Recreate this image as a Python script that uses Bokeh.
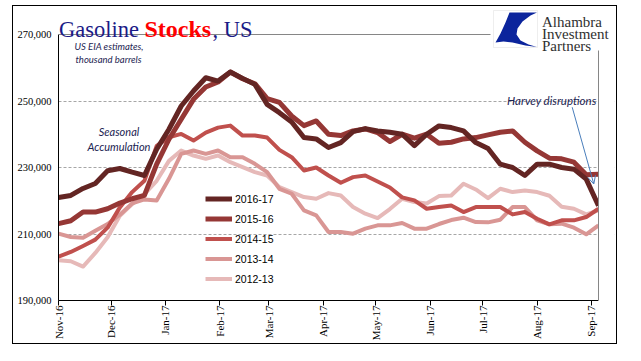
import math
import pandas as pd
from bokeh.plotting import figure
from bokeh.models import (Range1d, FixedTicker, MonthsTicker, DatetimeTickFormatter,
                          NumeralTickFormatter, Legend, LegendItem, Label, PolyAnnotation,
                          Arrow, OpenHead)
from bokeh.embed import file_html
from bokeh.resources import INLINE

# ---------------- data (thousand barrels, weekly) ----------------
weeks = pd.date_range("2016-11-01", periods=45, freq="7D")

s2016_17 = [221.0, 221.6, 223.7, 225.2, 229.0, 229.7, 228.6, 227.6, 235.5, 241.5,
            248.5, 253.0, 257.0, 256.0, 258.7, 256.8, 255.0, 249.0, 246.5, 243.7,
            239.0, 238.6, 236.0, 237.5, 240.8, 241.7, 241.0, 240.6, 240.0, 236.6,
            240.0, 242.5, 242.0, 241.0, 237.5, 235.7, 231.0, 230.0, 227.6, 231.0,
            231.0, 230.0, 229.5, 226.5, 218.5]
s2015_16 = [213.1, 214.0, 216.6, 216.6, 217.6, 219.3, 220.6, 221.6, 231.0, 238.5,
            244.5, 250.5, 254.2, 255.7, 258.7, 256.7, 255.2, 250.7, 249.6, 245.5,
            242.6, 244.0, 240.0, 239.6, 241.0, 241.6, 240.5, 237.8, 240.0, 238.8,
            240.0, 237.3, 237.6, 238.6, 239.0, 239.8, 240.6, 241.0, 237.6, 235.0,
            232.8, 232.6, 231.6, 227.8, 228.0]
s2014_15 = [203.2, 204.6, 206.4, 208.3, 211.9, 218.0, 222.6, 226.0, 236.5, 239.1,
            240.1, 238.1, 240.5, 242.0, 242.6, 239.6, 239.6, 239.0, 235.3, 233.1,
            229.1, 230.0, 227.6, 225.4, 227.1, 227.6, 225.8, 224.0, 221.0, 220.1,
            217.6, 218.1, 218.6, 216.6, 218.1, 218.1, 218.1, 215.9, 216.6, 214.6,
            212.9, 214.1, 214.1, 215.1, 217.6]
s2013_14 = [210.1, 209.1, 208.9, 211.0, 213.0, 215.8, 219.2, 220.4, 220.1, 226.6,
            234.1, 235.1, 234.1, 235.1, 233.1, 233.1, 231.1, 228.6, 223.6, 222.1,
            217.1, 215.6, 210.6, 210.6, 210.1, 211.6, 212.6, 212.6, 213.3, 211.6,
            211.6, 213.0, 214.2, 214.9, 213.6, 213.5, 214.3, 218.1, 218.1, 214.1,
            212.9, 213.1, 211.9, 209.9, 212.6]
s2012_13 = [202.1, 201.8, 200.2, 204.3, 209.0, 215.5, 219.0, 222.0, 226.0, 232.0,
            235.1, 233.6, 232.6, 233.6, 231.6, 230.1, 228.6, 227.6, 224.1, 222.6,
            221.1, 220.6, 222.3, 221.6, 218.1, 216.1, 214.8, 217.5, 220.6, 219.6,
            219.2, 221.4, 221.6, 225.1, 223.4, 220.8, 223.6, 222.6, 223.1, 222.6,
            221.5, 218.2, 217.6, 215.9, 217.1]

series_names = ["2016-17", "2015-16", "2014-15", "2013-14", "2012-13"]
series_values = [s2016_17, s2015_16, s2014_15, s2013_14, s2012_13]
series_colors = ["#632523", "#953735", "#C0504D", "#D99694", "#E6B9B8"]
series_widths = [5, 5, 4, 4, 4]

y_min, y_max = 190000, 270000
y_ticks = [190000, 210000, 230000, 250000, 270000]
grid_ticks = [210000, 230000, 250000]

# ---------------- layout (page pixels) ----------------
BOX_L, BOX_T, BOX_R, BOX_B = 13, 6, 616, 343      # outer chart border
PLOT_L, PLOT_T, PLOT_R, PLOT_B = 58, 34, 598, 300  # plot area of the data
FRAME_T, FRAME_R = 8, 614                          # bokeh frame (extended for title/logo)

px_per_val = (PLOT_B - PLOT_T) / (y_max - y_min)
y_top = y_max + (PLOT_T - FRAME_T) / px_per_val
span_days = (weeks[-1] - weeks[0]).days
px_per_day = (PLOT_R - PLOT_L) / span_days
x_end = weeks[-1] + pd.Timedelta(days=(FRAME_R - PLOT_R) / px_per_day)


def sx(px):
    return px - PLOT_L


def sy(py):
    return PLOT_B - py


p = figure(width=BOX_R - BOX_L, height=BOX_B - BOX_T, x_axis_type="datetime",
           output_backend="svg", toolbar_location=None, title=None,
           x_range=Range1d(weeks[0], x_end), y_range=Range1d(y_min, y_top),
           min_border_left=PLOT_L - BOX_L, min_border_right=BOX_R - FRAME_R,
           min_border_top=FRAME_T - BOX_T, min_border_bottom=BOX_B - PLOT_B)
p.margin = (BOX_T, 0, 0, BOX_L)
p.styles = {"outline": "1.5px solid black", "outline-offset": "0px"}
p.outline_line_color = None
p.background_fill_color = "white"
p.border_fill_color = "white"

renderers = {}
for name, vals, col, w in reversed(list(zip(series_names, series_values, series_colors, series_widths))):
    r = p.line(weeks, [v * 1000 for v in vals], line_color=col, line_width=w, line_join="round")
    renderers[name] = r

# axes
p.yaxis.bounds = (y_min, y_max)
p.yaxis.ticker = FixedTicker(ticks=y_ticks)
p.yaxis.formatter = NumeralTickFormatter(format="0,0")
p.yaxis.major_label_text_font = "Liberation Serif"
p.yaxis.major_label_text_font_size = "10.5px"
p.yaxis.major_label_text_color = "black"
p.yaxis.major_tick_in = 0
p.yaxis.major_tick_out = 0
p.yaxis.minor_tick_in = 0
p.yaxis.minor_tick_out = 0
p.yaxis.major_label_standoff = 7
p.yaxis.axis_line_color = "black"

p.xaxis.bounds = (weeks[0], weeks[-1])
p.xaxis.ticker = MonthsTicker(months=list(range(12)))
fmt = "%b-%y"
p.xaxis.formatter = DatetimeTickFormatter(days=fmt, months=fmt, years=fmt)
p.xaxis.major_label_orientation = math.pi / 2
p.xaxis.major_label_text_font = "Liberation Serif"
p.xaxis.major_label_text_font_size = "11px"
p.xaxis.major_label_text_color = "black"
p.xaxis.major_tick_in = 0
p.xaxis.major_tick_out = 5
p.xaxis.minor_tick_in = 0
p.xaxis.minor_tick_out = 0
p.xaxis.major_label_standoff = 0
p.xaxis.axis_line_color = "black"
p.xaxis.major_tick_line_color = "black"

p.xgrid.grid_line_color = None
p.ygrid.ticker = FixedTicker(ticks=grid_ticks)
p.ygrid.grid_line_color = "#a6a6a6"
p.ygrid.grid_line_dash = "3 2"
p.ygrid.grid_line_width = 1


def poly(xs, ys, **kw):
    p.add_layout(PolyAnnotation(xs=[sx(v) for v in xs], ys=[sy(v) for v in ys],
                                xs_units="screen", ys_units="screen", **kw))


# blank strip right of the plot area (frame is wider for the logo text)
poly([PLOT_R, FRAME_R + 2, FRAME_R + 2, PLOT_R], [FRAME_T, FRAME_T, PLOT_B + 1, PLOT_B + 1],
     line_color=None, fill_color="white", fill_alpha=1)
# plot-area border pieces (gray top and right)
poly([PLOT_L, 490, 490, PLOT_L], [PLOT_T - 0.5, PLOT_T - 0.5, PLOT_T + 0.5, PLOT_T + 0.5],
     line_color=None, fill_color="#868686", fill_alpha=1)
poly([PLOT_R - 0.5, PLOT_R + 0.5, PLOT_R + 0.5, PLOT_R - 0.5], [50, 50, PLOT_B, PLOT_B],
     line_color=None, fill_color="#868686", fill_alpha=1)

# legend
legend = Legend(items=[LegendItem(label=n, renderers=[renderers[n]]) for n in series_names],
                location=(sx(205), sy(288)), orientation="vertical",
                background_fill_alpha=0, border_line_color=None, padding=0, margin=0,
                spacing=1, glyph_width=27, glyph_height=19, label_height=19,
                label_standoff=3, label_text_font="Liberation Sans",
                label_text_font_size="10.5px", label_text_color="black")
p.add_layout(legend, "center")

# title
navy = "#1B1B87"
p.add_layout(Label(x=sx(58.5), y=sy(28.5), x_units="screen", y_units="screen", text="Gasoline",
                   text_font="Liberation Serif", text_font_size="22.5px", text_color=navy,
                   text_baseline="alphabetic"))
p.add_layout(Label(x=sx(144), y=sy(28.5), x_units="screen", y_units="screen", text="Stocks",
                   text_font="Liberation Serif", text_font_size="24px", text_font_style="bold",
                   text_color="#FF0000", text_baseline="alphabetic"))
p.add_layout(Label(x=sx(212), y=sy(28.5), x_units="screen", y_units="screen", text=", US",
                   text_font="Liberation Serif", text_font_size="22.5px", text_color=navy,
                   text_baseline="alphabetic"))

# annotations
note_col = "#1C2452"
for txt, x, y, align, fs in [("US EIA estimates,", 74, 46, "left", "9.5px"),
                             ("thousand barrels", 75, 58.5, "left", "9.5px"),
                             ("Seasonal", 118.5, 131, "center", "11px"),
                             ("Accumulation", 118.5, 145.5, "center", "11px"),
                             ("Harvey disruptions", 596, 99.5, "right", "11.5px")]:
    p.add_layout(Label(x=sx(x), y=sy(y), x_units="screen", y_units="screen", text=txt,
                       text_font="Lato", text_font_style="italic", text_font_size=fs,
                       text_color=note_col, text_align=align, text_baseline="alphabetic"))

p.add_layout(Arrow(x_start=sx(571.7), y_start=sy(106.7), x_end=sx(593.3), y_end=sy(183.5),
                   start_units="screen", end_units="screen", line_color="#4A7EBB", line_width=1,
                   end=OpenHead(size=8, line_color="#4A7EBB", line_width=1)))

# logo
poly([493, 537, 537, 493], [10, 10, 47, 47], line_color="#c8c8c8", line_width=1,
     fill_color="white", fill_alpha=1)
logo_x = [509, 536.5, 530, 522, 517, 516, 520, 528, 536.5, 525, 512, 503, 495, 500, 505]
logo_y = [12, 12, 15, 21, 28, 34, 40, 44, 46.5, 45, 42, 41, 42, 33, 22]
poly(logo_x, logo_y, line_color=None, fill_color="#0B249C", fill_alpha=1)
for txt, y in [("Alhambra", 21.7), ("Investment", 33.5), ("Partners", 45)]:
    p.add_layout(Label(x=sx(541.5), y=sy(y), x_units="screen", y_units="screen", text=txt,
                       text_font="Liberation Serif", text_font_size="15px", text_color="#303030",
                       text_baseline="alphabetic"))

open("out.html", "w").write(file_html(p, INLINE))
